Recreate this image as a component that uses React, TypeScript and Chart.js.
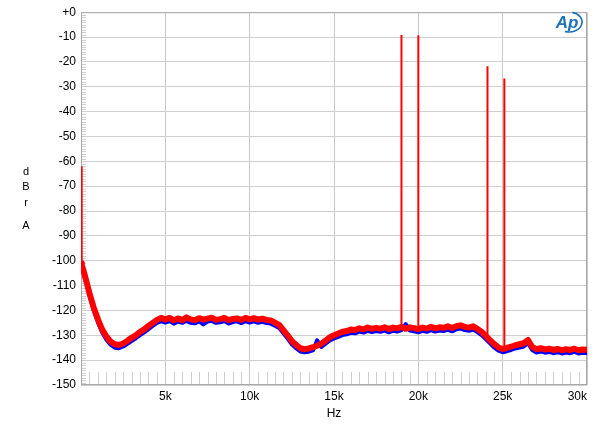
import React, { useEffect, useRef } from 'react';
import { Chart, registerables } from 'chart.js';

Chart.register(...registerables);

// Noise floor sampled every FREQ_STEP Hz, starting at FREQ_START
const FREQ_START = 250;
const FREQ_STEP = 250;

const LEAD_FREQ = [0, 50, 130];
const LEAD_RED = [-101, -102, -103.5];
const LEAD_BLUE = [-101.5, -102.5, -104];

const RED_NOISE = [
  -106.5, -113.0, -118.8, -123.5, -127.6, -130.4, -132.5, -133.6, -133.9, -133.3,
  -132.2, -131.0, -130.0, -128.6, -127.6, -126.2, -125.0, -123.8, -123.0, -123.6,
  -123.0, -124.0, -123.2, -123.9, -122.8, -123.6, -123.9, -123.1, -123.7, -123.3,
  -122.9, -123.8, -123.5, -123.0, -123.9, -123.4, -123.2, -123.8, -123.0, -123.6,
  -123.1, -123.7, -123.3, -123.8, -124.0, -124.9, -125.8, -127.9, -130.0, -132.3,
  -133.9, -135.2, -135.6, -135.3, -134.8, -134.2, -133.4, -132.1, -130.8, -130.0,
  -129.3, -128.6, -128.3, -127.7, -127.9, -127.2, -127.6, -126.9, -127.4, -127.0,
  -127.3, -126.8, -127.5, -126.9, -127.2, -126.6, -127.4, -126.8, -127.1, -127.5,
  -126.9, -127.3, -126.6, -127.2, -126.8, -127.0, -126.4, -127.1, -126.3, -126.0,
  -126.6, -126.9, -126.4, -127.4, -128.6, -130.2, -131.9, -133.6, -134.9, -135.5,
  -135.1, -134.6, -134.0, -133.6, -133.2, -131.9, -134.6, -135.6, -135.2, -135.7,
  -135.4, -135.9, -135.5, -136.0, -135.6, -135.9, -135.4, -136.0, -135.7, -135.8,
  -135.9,
];

const BLUE_NOISE = [
  -107.2, -114.0, -119.9, -124.7, -128.8, -131.7, -133.8, -135.0, -135.2, -134.5,
  -133.4, -132.3, -131.2, -129.9, -128.8, -127.5, -126.2, -125.0, -124.4, -124.9,
  -124.3, -125.3, -124.4, -125.0, -124.1, -125.0, -125.2, -124.3, -125.6, -124.5,
  -124.2, -125.0, -124.8, -124.3, -125.3, -124.7, -124.4, -125.1, -124.3, -124.9,
  -124.4, -125.0, -124.6, -125.1, -125.3, -126.2, -127.1, -129.2, -131.3, -133.6,
  -135.2, -136.5, -136.8, -136.6, -136.1, -132.0, -134.7, -133.4, -132.1, -131.3,
  -130.6, -129.9, -129.6, -129.0, -129.2, -128.5, -128.9, -128.2, -128.7, -128.3,
  -128.6, -128.1, -128.8, -128.2, -128.5, -127.9, -125.5, -128.1, -128.4, -128.8,
  -128.2, -128.6, -127.9, -128.5, -128.1, -128.3, -127.7, -128.4, -127.6, -127.3,
  -127.9, -128.2, -127.7, -128.7, -129.9, -131.5, -133.2, -134.9, -136.2, -136.8,
  -136.4, -135.9, -135.3, -134.9, -134.5, -133.2, -135.9, -136.9, -136.5, -137.0,
  -136.7, -137.2, -136.8, -137.3, -136.9, -137.2, -136.7, -137.3, -137.0, -137.1,
  -137.0,
];

// Discrete tones (Hz, peak dBrA, base dBrA)
const TONE_FREQ = [40, 19000, 20000, 24100, 25100];
const TONE_TOP = [-62, -9.2, -9.3, -21.7, -26.7];
const TONE_BASE = [-101, -126.5, -127.5, -130.5, -135.5];

const X_TICKS = [5000, 10000, 15000, 20000, 25000, 30000];
const X_LABELS = ['5k', '10k', '15k', '20k', '25k', '30k'];
const X_MAX = 30000;
const Y_MIN = -150;
const Y_MAX = 0;

const FONT = "'Liberation Sans', Arial, sans-serif";

function buildNoise(lead: number[], noise: number[]) {
  const pts: { x: number; y: number }[] = [];
  LEAD_FREQ.forEach((f, i) => pts.push({ x: f, y: lead[i] }));
  noise.forEach((v, i) => pts.push({ x: FREQ_START + i * FREQ_STEP, y: v }));
  return pts;
}

function buildTones() {
  const pts: { x: number; y: number | null }[] = [];
  TONE_FREQ.forEach((f, i) => {
    pts.push({ x: f, y: TONE_BASE[i] });
    pts.push({ x: f, y: TONE_TOP[i] });
    pts.push({ x: f, y: null });
  });
  return pts;
}

const decorPlugin = {
  id: 'decor',
  beforeDatasetsDraw(chart: any) {
    const { ctx, chartArea, scales } = chart;
    const xs = scales.x;
    const ys = scales.y;
    ctx.save();
    ctx.strokeStyle = '#cfcfcf';
    ctx.lineWidth = 1;
    ctx.beginPath();
    for (let f = 500; f < X_MAX; f += 500) {
      if (f % 5000 === 0) continue;
      const px = Math.round(xs.getPixelForValue(f)) + 0.5;
      ctx.moveTo(px, chartArea.bottom);
      ctx.lineTo(px, chartArea.bottom - 13);
    }
    for (let d = Y_MIN + 1; d < Y_MAX; d++) {
      if (d % 10 === 0) continue;
      const py = Math.round(ys.getPixelForValue(d)) + 0.5;
      ctx.moveTo(chartArea.left, py);
      ctx.lineTo(chartArea.left + 5, py);
    }
    ctx.stroke();
    // frame
    ctx.strokeStyle = '#a8a8a8';
    ctx.strokeRect(chartArea.left + 0.5, chartArea.top + 0.5, chartArea.right - chartArea.left - 1, chartArea.bottom - chartArea.top - 1);
    ctx.restore();
  },
  afterDraw(chart: any) {
    const { ctx, chartArea, scales } = chart;
    const xs = scales.x;
    ctx.save();
    ctx.fillStyle = '#000';
    ctx.textBaseline = 'middle';
    // x tick labels
    ctx.font = `12px ${FONT}`;
    X_TICKS.forEach((v, i) => {
      const px = xs.getPixelForValue(v);
      const w = ctx.measureText(X_LABELS[i]).width;
      if (px + w / 2 > chartArea.right) {
        ctx.textAlign = 'right';
        ctx.fillText(X_LABELS[i], chartArea.right, 397);
      } else {
        ctx.textAlign = 'center';
        ctx.fillText(X_LABELS[i], px, 397);
      }
    });
    // y title stacked
    ctx.textAlign = 'center';
    ctx.font = `11px ${FONT}`;
    const letters = ['d', 'B', 'r', 'A'];
    const ly = [172, 187, 203, 226];
    letters.forEach((l, i) => ctx.fillText(l, 26, ly[i]));
    // x title
    ctx.font = `12px ${FONT}`;
    ctx.fillText('Hz', (chartArea.left + chartArea.right) / 2, 414);
    // Ap logo
    ctx.fillStyle = '#1d72b8';
    ctx.strokeStyle = '#1d72b8';
    ctx.font = `italic bold 17px ${FONT}`;
    ctx.fillText('Ap', 567, 23);
    ctx.lineWidth = 1.6;
    ctx.beginPath();
    ctx.ellipse(569, 22, 13, 10, 0, -1.3, 1.9);
    ctx.stroke();
    ctx.restore();
  },
};

export default function App() {
  const ref = useRef<HTMLCanvasElement | null>(null);
  useEffect(() => {
    if (!ref.current) return;
    const chart = new Chart(ref.current, {
      type: 'line',
      data: {
        datasets: [
          {
            label: 'tones',
            data: buildTones(),
            borderColor: '#ff0000',
            borderWidth: 2,
            pointRadius: 0,
            spanGaps: false,
            tension: 0,
          },
          {
            label: 'red',
            data: buildNoise(LEAD_RED, RED_NOISE),
            borderColor: '#ff0000',
            borderWidth: 6,
            pointRadius: 0,
            tension: 0,
            borderJoinStyle: 'round',
          },
          {
            label: 'blue',
            data: buildNoise(LEAD_BLUE, BLUE_NOISE),
            borderColor: '#0000ff',
            borderWidth: 4,
            pointRadius: 0,
            tension: 0,
            borderJoinStyle: 'round',
          },
        ],
      },
      options: {
        animation: false,
        responsive: true,
        maintainAspectRatio: false,
        layout: { padding: { left: 0, right: 13, top: 9, bottom: 0 } },
        plugins: { legend: { display: false }, tooltip: { enabled: false } },
        scales: {
          x: {
            type: 'linear',
            min: 0,
            max: X_MAX,
            afterBuildTicks: (s: any) => {
              s.ticks = X_TICKS.map((v) => ({ value: v }));
            },
            afterFit: (s: any) => {
              s.height = 48;
            },
            ticks: { display: false },
            grid: { color: '#c8c8c8', lineWidth: 1, drawTicks: false },
            border: { display: false },
          },
          y: {
            type: 'linear',
            min: Y_MIN,
            max: Y_MAX,
            afterFit: (s: any) => {
              s.width = 81;
            },
            ticks: {
              stepSize: 10,
              padding: 5,
              color: '#000',
              font: { family: FONT, size: 12 },
              callback: (v: any) => (Number(v) === 0 ? '+0' : String(v)),
            },
            grid: { color: '#cfcfcf', lineWidth: 1, drawTicks: false },
            border: { display: false },
          },
        },
      },
      plugins: [decorPlugin],
    });
    return () => chart.destroy();
  }, []);
  return (
    <div style={{ position: 'fixed', left: 0, top: 0, width: 600, height: 433, background: '#fff' }}>
      <canvas ref={ref} />
    </div>
  );
}
